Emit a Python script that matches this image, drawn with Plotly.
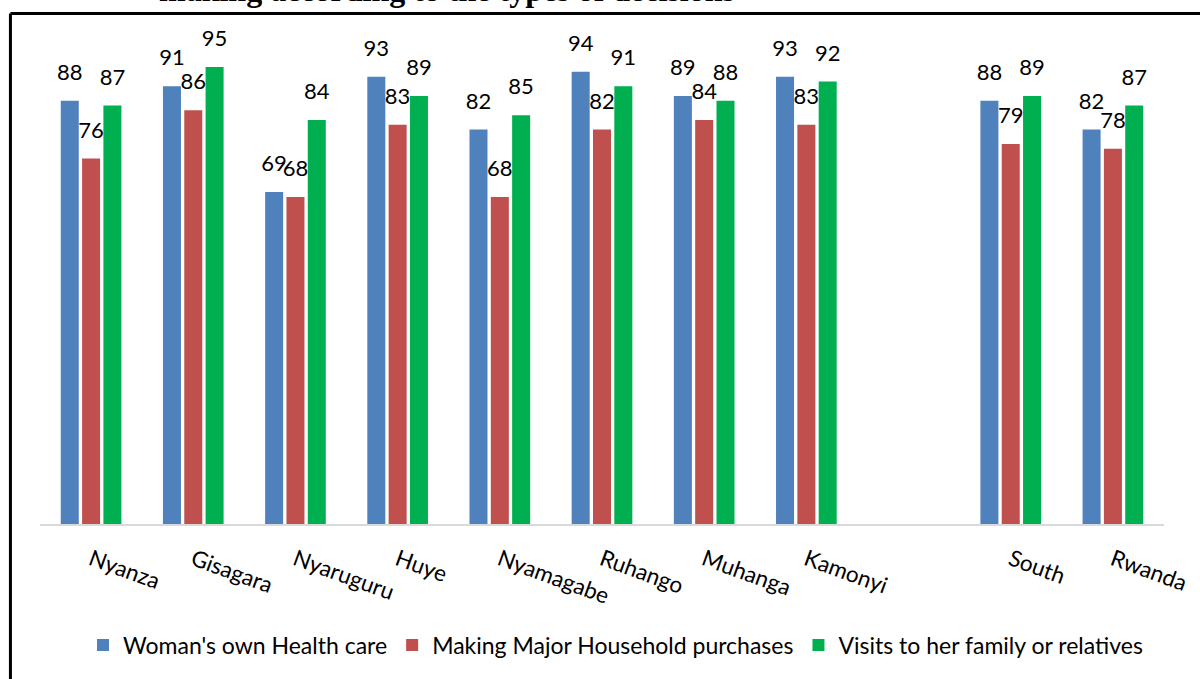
import plotly.graph_objects as go

categories = ["Nyanza", "Gisagara", "Nyaruguru", "Huye", "Nyamagabe", "Ruhango",
              "Muhanga", "Kamonyi", " ", "South", "Rwanda"]
health_care = [88, 91, 69, 93, 82, 94, 89, 93, None, 88, 82]
major_purchases = [76, 86, 68, 83, 68, 82, 84, 83, None, 79, 78]
family_visits = [87, 95, 84, 89, 85, 91, 88, 92, None, 89, 87]

series = [
    ("Woman's own Health care", health_care, "#4F81BD"),
    ("Making Major Household purchases", major_purchases, "#C0504D"),
    ("Visits to her family or relatives", family_visits, "#00B050"),
]

title_text = "making according to the types of decisions"

FONT = "Lato"
fig = go.Figure()
for name, vals, color in series:
    fig.add_trace(go.Bar(
        x=categories, y=vals, name=name,
        marker=dict(color=color, line=dict(width=0)),
        hoverinfo="skip",
    ))
for name, vals, color in series:
    fig.add_trace(go.Scatter(
        x=categories, y=vals, mode="markers+text",
        text=[("" if v is None else str(v)) for v in vals],
        textposition="top center",
        textfont=dict(family=FONT, size=22, color="#000000"),
        marker=dict(size=23, opacity=0),
        showlegend=False, hoverinfo="skip", cliponaxis=False,
    ))

fig.update_layout(
    width=1200, height=679,
    margin=dict(l=40, r=36, t=43, b=155, autoexpand=False),
    paper_bgcolor="white", plot_bgcolor="white",
    barmode="group", bargap=0.374, bargroupgap=0.155,
    scattermode="group", scattergap=0.374,
    font=dict(family=FONT, size=22, color="#000000"),
    showlegend=True,
    legend=dict(orientation="h", x=0.512, xanchor="center", y=-0.2516, yanchor="middle",
                font=dict(family=FONT, size=23, color="#000000"),
                itemwidth=30, bgcolor="rgba(0,0,0,0)"),
    xaxis=dict(type="category", categoryorder="array", categoryarray=categories,
               range=[-0.5, 10.5], showgrid=False, zeroline=False,
               showline=True, linecolor="#d9d9d9", linewidth=2,
               ticks="", tickangle=20, ticklabelstandoff=12,
               tickfont=dict(family=FONT, size=22.5, color="#000000")),
    yaxis=dict(range=[0, 100], visible=False, showgrid=False, zeroline=False),
)

# frame lines (left and top) of the surrounding box
fig.add_shape(type="line", xref="paper", yref="paper",
              x0=-0.0263, x1=1.2, y0=1.0613, y1=1.0613,
              line=dict(color="#000000", width=3))
fig.add_shape(type="line", xref="paper", yref="paper",
              x0=-0.0263, x1=-0.0263, y0=1.0613, y1=-0.5,
              line=dict(color="#000000", width=3))

fig.add_annotation(text="<b>" + title_text + "</b>", xref="paper", yref="paper",
                   x=(447 - 40) / 1124, y=(524 - 10) / 481, xanchor="center", yanchor="bottom",
                   showarrow=False,
                   font=dict(family="Liberation Serif", size=32, color="#000000"))

fig.write_html("out.html", config={"displayModeBar": False},
               post_script="document.body.style.margin='0';")
